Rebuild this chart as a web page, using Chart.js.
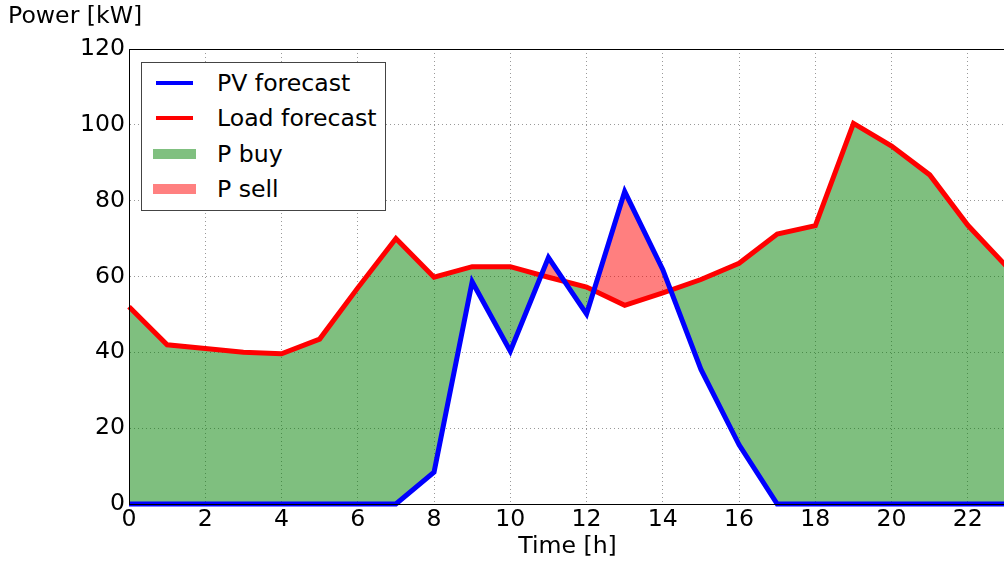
<!DOCTYPE html>
<html lang="en">
<head>
    <meta charset="UTF-8">
    <title>PV and Load Forecast</title>
    <script src="https://cdn.jsdelivr.net/npm/chart.js"></script>
    <style>
        body {
            margin: 0;
            overflow: hidden;
            background-color: #fff;
            font-family: "DejaVu Sans", sans-serif;
        }
        #wrap {
            position: absolute;
            left: 0;
            top: 0;
            width: 1006px;
            height: 567px;
        }
        #yTitle {
            position: absolute;
            left: 8px;
            top: 3px;
            font-size: 23.6px;
            line-height: 24px;
            color: #000;
        }
        #legend {
            position: absolute;
            left: 141px;
            top: 62px;
            width: 243px;
            height: 147px;
            border: 1px solid #444;
            background: #fff;
        }
        .row {
            position: absolute;
            left: 0;
            height: 36px;
            width: 100%;
        }
        .row span {
            position: absolute;
            left: 75px;
            top: 0;
            font-size: 23.6px;
            line-height: 36px;
        }
        .swatch {
            position: absolute;
            left: 14px;
            width: 37px;
        }
    </style>
</head>
<body>
    <div id="wrap">
        <canvas id="chart" width="1006" height="567"></canvas>
    </div>
    <div id="yTitle">Power [kW]</div>
    <div id="legend">
        <div class="row" style="top:2px"><div class="swatch" style="top:16px;height:4px;background:#0000ff"></div><span>PV forecast</span></div>
        <div class="row" style="top:37px"><div class="swatch" style="top:16px;height:4px;background:#ff0000"></div><span>Load forecast</span></div>
        <div class="row" style="top:73px"><div class="swatch" style="left:11px;width:43px;top:13px;height:10px;background:#80c080"></div><span>P buy</span></div>
        <div class="row" style="top:108px"><div class="swatch" style="left:11px;width:43px;top:13px;height:10px;background:#ff8080"></div><span>P sell</span></div>
    </div>

    <script>
        // hours of the day
        const hours = [0, 1, 2, 3, 4, 5, 6, 7, 8, 9, 10, 11, 12, 13, 14, 15, 16, 17, 18, 19, 20, 21, 22, 23];
        // forecasts in kW
        const pvForecast = [0, 0, 0, 0, 0, 0, 0, 0, 8.4, 58.6, 40.3, 65, 50.1, 82.4, 61.8, 35.5, 15.6, 0, 0, 0, 0, 0, 0, 0];
        const loadForecast = [52, 42, 41, 40, 39.6, 43.5, 57, 70, 59.8, 62.6, 62.6, 59.8, 57.2, 52.4, 55.7, 59.2, 63.5, 71.2, 73.4, 100.4, 94.4, 86.8, 73.5, 62.8];
        const xTicks = [0, 2, 4, 6, 8, 10, 12, 14, 16, 18, 20, 22];
        const yTicks = [0, 20, 40, 60, 80, 100, 120];

        const toPoints = arr => hours.map((h, i) => ({ x: h, y: arr[i] }));

        // box round the axes like matplotlib
        const frame = {
            id: 'frame',
            afterDraw(chart) {
                const a = chart.chartArea;
                const c = chart.ctx;
                c.save();
                c.strokeStyle = '#000';
                c.lineWidth = 1;
                c.strokeRect(a.left + 0.5, a.top + 0.5, a.right - a.left, a.bottom - a.top);
                c.restore();
            }
        };

        const tickFont = { family: 'DejaVu Sans', size: 23.6 };

        const ctx = document.getElementById('chart').getContext('2d');
        new Chart(ctx, {
            type: 'line',
            data: {
                datasets: [
                    {
                        label: 'PV forecast',
                        data: toPoints(pvForecast),
                        borderColor: '#0000ff',
                        borderWidth: 5,
                        pointRadius: 0,
                        fill: false,
                        clip: 6
                    },
                    {
                        label: 'Load forecast',
                        data: toPoints(loadForecast),
                        borderColor: '#ff0000',
                        borderWidth: 5,
                        pointRadius: 0,
                        clip: 6,
                        fill: {
                            target: 0,
                            above: 'rgba(0, 128, 0, 0.5)',
                            below: 'rgba(255, 0, 0, 0.5)'
                        }
                    }
                ]
            },
            options: {
                responsive: false,
                animation: false,
                layout: { padding: { top: 49, right: 0, left: 0, bottom: 0 } },
                plugins: {
                    legend: { display: false },
                    tooltip: { enabled: false }
                },
                scales: {
                    x: {
                        type: 'linear',
                        min: 0,
                        max: 23,
                        afterBuildTicks: s => { s.ticks = xTicks.map(v => ({ value: v })); },
                        afterFit: s => { s.height = 63; },
                        ticks: {
                            color: '#000',
                            font: tickFont,
                            padding: 2,
                            maxRotation: 0
                        },
                        grid: {
                            color: 'rgba(0,0,0,0.4)',
                            lineWidth: 1,
                            drawTicks: false
                        },
                        border: { display: true, color: '#000', dash: [1, 3] },
                        title: {
                            display: true,
                            text: 'Time [h]',
                            color: '#000',
                            font: tickFont,
                            padding: { top: 0, bottom: 6 }
                        }
                    },
                    y: {
                        min: 0,
                        max: 120,
                        afterBuildTicks: s => { s.ticks = yTicks.map(v => ({ value: v })); },
                        afterFit: s => { s.width = 129; },
                        ticks: {
                            color: '#000',
                            font: tickFont,
                            padding: 4
                        },
                        grid: {
                            color: 'rgba(0,0,0,0.4)',
                            lineWidth: 1,
                            drawTicks: false
                        },
                        border: { display: true, color: '#000', dash: [1, 3] }
                    }
                }
            },
            plugins: [frame]
        });
    </script>
</body>
</html>
